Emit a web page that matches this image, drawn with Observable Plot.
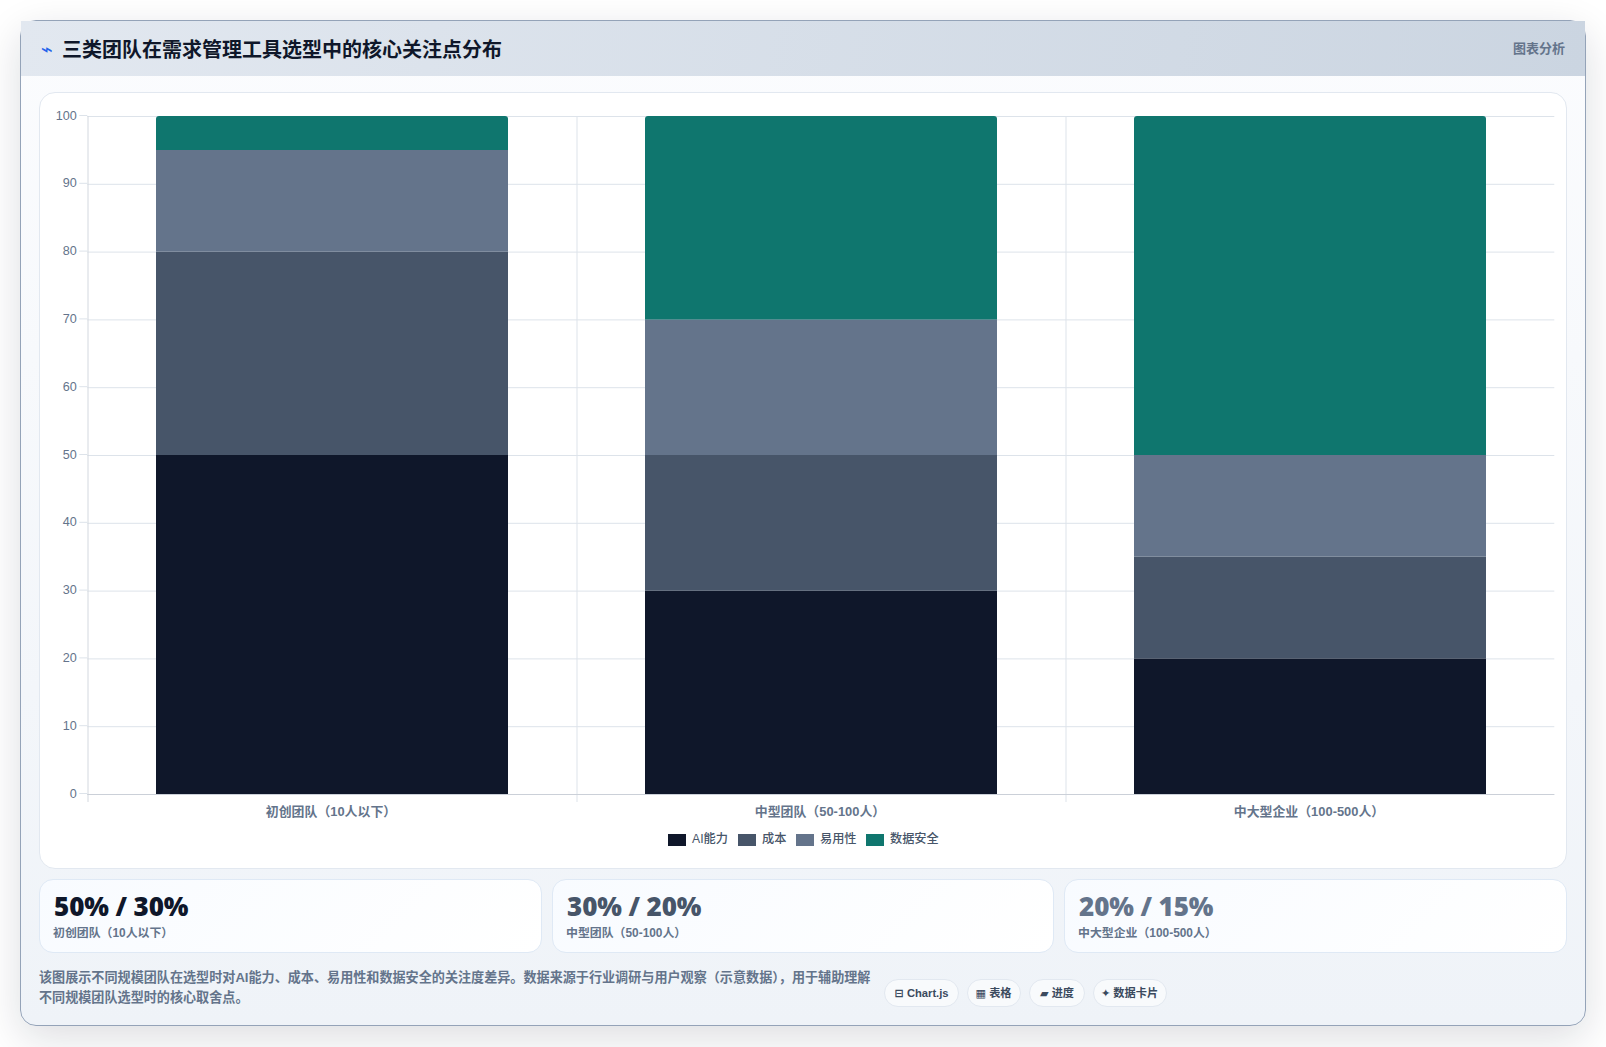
<!DOCTYPE html>
<html lang="zh">
<head>
<meta charset="utf-8">
<title>三类团队在需求管理工具选型中的核心关注点分布</title>
<script src="https://cdn.jsdelivr.net/npm/d3@7"></script>
<script src="https://cdn.jsdelivr.net/npm/@observablehq/plot@0.6"></script>
<style>
html,body{margin:0;padding:0;background:#fff;width:1606px;height:1047px;overflow:hidden;font-family:"Liberation Sans","Noto Sans CJK SC",sans-serif}
.abs{position:absolute;box-sizing:border-box}
#card{left:20px;top:20px;width:1566px;height:1006px;border:1px solid #94a3b8;border-radius:16px;background:linear-gradient(180deg,#fbfcfe 0%,#eff3f8 100%);box-shadow:0 12px 40px rgba(15,23,42,.14)}
#head{left:21px;top:21px;width:1564px;height:55px;background:linear-gradient(100deg,#e2e8f0 0%,#cbd5e1 100%)}
#icon{left:41px;top:37px;font:400 20px "DejaVu Sans";color:#2563eb}
#title{left:62px;top:36px;font-size:20px;line-height:28px;font-weight:700;color:#0f172a;white-space:nowrap}
#tag{left:1513px;top:39.5px;font-size:13px;line-height:18px;font-weight:600;color:#64748b;white-space:nowrap}
#panel{left:39px;top:92px;width:1528px;height:777px;background:#fff;border:1px solid #e2e8f0;border-radius:16px}
#plot{left:39px;top:92px}
#plot svg{display:block}
.sw{height:12px;width:18px;top:834px}
.lg{top:831px;font-size:12.2px;line-height:17px;font-weight:500;color:#475569;white-space:nowrap}
.stat{top:879px;height:74px;background:linear-gradient(135deg,#f8fbff,#fff);border:1px solid #dfe9f5;border-radius:14px}
.num{top:889px;font:900 26px/34px "Noto Sans","DejaVu Sans",sans-serif;letter-spacing:-.1px;white-space:nowrap}
.sub{top:925px;font-size:11.9px;line-height:16px;font-weight:600;color:#64748b;white-space:nowrap}
#desc{left:39px;top:967.5px;width:836px;font-size:13.1px;line-height:20px;font-weight:600;color:#64748b}
.pill{top:979px;height:28px;background:#f8fafc;border:1px solid #e2e8f0;border-radius:14px;font-family:"Liberation Sans","DejaVu Sans","Noto Sans CJK SC",sans-serif;font-size:11.2px;font-weight:700;color:#3b4a5e;line-height:26px;text-align:center;white-space:nowrap}
</style>
</head>
<body>
<script>
const titleText = "三类团队在需求管理工具选型中的核心关注点分布";
const tagText = "图表分析";
const categories = ["初创团队（10人以下）", "中型团队（50-100人）", "中大型企业（100-500人）"];
const seriesNames = ["AI能力", "成本", "易用性", "数据安全"];
const seriesColors = ["#0f172a", "#475569", "#64748b", "#0f766e"];
const aiValues = [50, 30, 20];
const costValues = [30, 20, 15];
const easeValues = [15, 20, 15];
const safetyValues = [5, 30, 50];
const yTicks = [0, 10, 20, 30, 40, 50, 60, 70, 80, 90, 100];
const statNumbers = ["50% / 30%", "30% / 20%", "20% / 15%"];
const description = "该图展示不同规模团队在选型时对AI能力、成本、易用性和数据安全的关注度差异。数据来源于行业调研与用户观察（示意数据），用于辅助理解不同规模团队选型时的核心取舍点。";
const pillTexts = ["⊟ Chart.js", "▦ 表格", "▰ 进度", "✦ 数据卡片"];

const seriesValues = [aiValues, costValues, easeValues, safetyValues];
const rows = [];
categories.forEach((c, i) => {
  let base = 0;
  seriesNames.forEach((s, k) => {
    rows.push({category: c, series: s, y1: base, y2: base + seriesValues[k][i]});
    base += seriesValues[k][i];
  });
});

function el(cls, id, css, text) {
  const d = document.createElement("div");
  d.className = "abs " + cls;
  if (id) d.id = id;
  if (css) d.style.cssText = css;
  if (text != null) d.textContent = text;
  document.body.appendChild(d);
  return d;
}
el("", "card");
el("", "head");
el("", "icon", "", "⌁");
el("", "title", "", titleText);
el("", "tag", "", tagText);
el("", "panel");

const W = 1528, H = 738, mL = 48.3, mR = 12.7;
const step = (W - mL - mR) / categories.length;
const chart = Plot.plot({
  width: W, height: H,
  marginLeft: mL, marginRight: mR, marginTop: 24, marginBottom: 36,
  style: {background: "transparent", fontFamily: '"Liberation Sans","Noto Sans CJK SC",sans-serif'},
  x: {type: "band", domain: categories, paddingInner: 0.28, paddingOuter: 0.14, label: null},
  y: {domain: [0, 100], label: null},
  color: {domain: seriesNames, range: seriesColors},
  marks: [
    Plot.gridY(yTicks, {stroke: "#dde3ea", strokeOpacity: 1, strokeWidth: 1}),
    Plot.ruleX(categories, {x: d => d, dx: -step / 2, insetBottom: -8, stroke: (d, i) => i === 0 ? "#d3d8df" : "#dde3ea", strokeWidth: 1}),
    Plot.barY(rows.filter(d => d.series !== "数据安全"), {x: "category", y1: "y1", y2: "y2", fill: "series"}),
    Plot.barY(rows.filter(d => d.series === "数据安全"), {x: "category", y1: "y1", y2: "y2", fill: "series", ry1: 3}),
    Plot.ruleY([0], {stroke: "#cbd0d8", strokeWidth: 1}),
    Plot.axisY({ticks: yTicks, tickSize: 8, stroke: "#dde3ea", strokeOpacity: 1, tickPadding: 3, fontSize: 12.6, dy: -1, fill: "#64748b", label: null}),
    Plot.axisX({tickSize: 0, tickPadding: 12.5, fontSize: 12.9, fontWeight: 700, dx: -1.5, fill: "#64748b", label: null, lineWidth: 30})
  ]
});
const plotBox = el("", "plot");
plotBox.appendChild(chart);

const swatchLefts = [668, 738, 796, 866];
const labelLefts = [692, 762, 820, 890];
seriesNames.forEach((s, i) => {
  el("sw", null, `left:${swatchLefts[i]}px;background:${seriesColors[i]}`);
  el("lg", null, `left:${labelLefts[i]}px`, s);
});

const statBoxes = [[39, 503], [552, 502], [1064, 503]];
const statColors = ["#0f172a", "#475569", "#64748b"];
statNumbers.forEach((t, i) => {
  el("stat", null, `left:${statBoxes[i][0]}px;width:${statBoxes[i][1]}px`);
  el("num", null, `left:${statBoxes[i][0] + 15}px;color:${statColors[i]}`, t);
  el("sub", null, `left:${statBoxes[i][0] + 14}px`, categories[i]);
});

el("", "desc", "", description);
const pillBoxes = [[884, 75], [966.5, 54], [1029, 56], [1092.5, 74]];
pillTexts.forEach((t, i) => el("pill", null, `left:${pillBoxes[i][0]}px;width:${pillBoxes[i][1]}px`, t));
</script>
</body>
</html>
